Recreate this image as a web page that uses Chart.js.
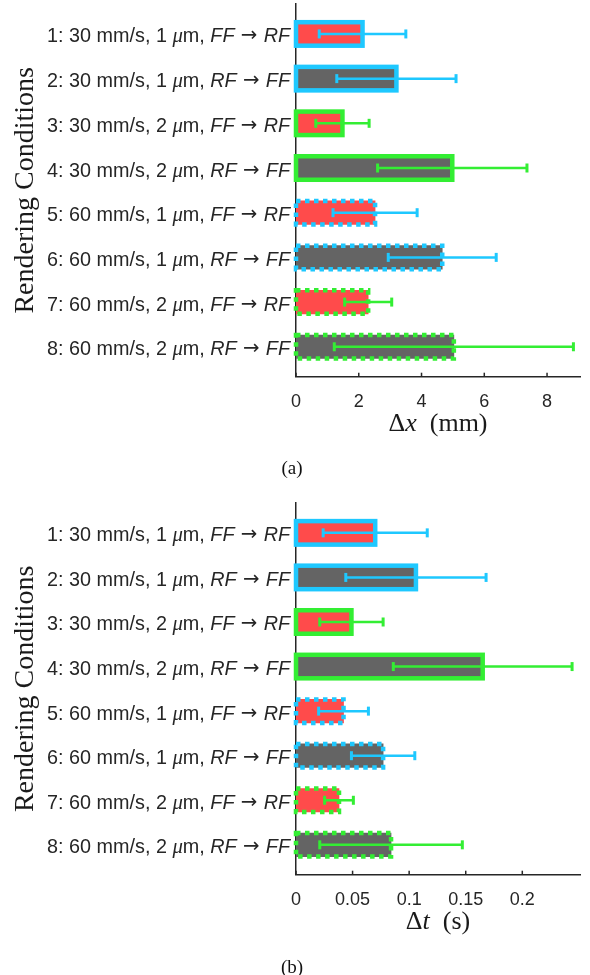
<!DOCTYPE html>
<html>
<head>
<meta charset="utf-8">
<script src="https://cdn.jsdelivr.net/npm/chart.js@4/dist/chart.umd.min.js"></script>
<style>
  html, body { margin: 0; padding: 0; background: #fff; width: 590px; height: 975px; overflow: hidden; }
  .panel { position: absolute; left: 0; width: 590px; }
  #panelA { top: 0; height: 480px; }
  #panelB { top: 499px; height: 476px; }
  .caption { position: absolute; left: 0; width: 584px; text-align: center;
             font: 19px "Liberation Serif", serif; line-height: 20px; color: #111; }
</style>
</head>
<body>
<div class="panel" id="panelA"><canvas id="chartA" width="590" height="480"></canvas></div>
<div class="panel" id="panelB"><canvas id="chartB" width="590" height="476"></canvas></div>
<div class="caption" style="top:458px">(a)</div>
<div class="caption" style="top:957px">(b)</div>
<script>
// Rendering conditions (one bar per condition, top to bottom)
const conditionIds = [1, 2, 3, 4, 5, 6, 7, 8];
const speeds = ['30 mm/s', '30 mm/s', '30 mm/s', '30 mm/s', '60 mm/s', '60 mm/s', '60 mm/s', '60 mm/s'];
const depths = ['1', '1', '2', '2', '1', '1', '2', '2'];
const fromFrame = ['FF', 'RF', 'FF', 'RF', 'FF', 'RF', 'FF', 'RF'];
const toFrame = ['RF', 'FF', 'RF', 'FF', 'RF', 'FF', 'RF', 'FF'];

// Panel (a): displacement threshold, mean and spread (mm)
const dxMean = [2.12, 3.20, 1.48, 4.98, 2.52, 4.66, 2.30, 5.03];
const dxSpread = [1.38, 1.90, 0.85, 2.38, 1.34, 1.72, 0.75, 3.81];
const dxTicks = [0, 2, 4, 6, 8];
const dxTickLabels = ['0', '2', '4', '6', '8'];

// Panel (b): time threshold, mean and spread (s)
const dtMean = [0.070, 0.106, 0.049, 0.165, 0.042, 0.077, 0.038, 0.084];
const dtSpread = [0.046, 0.062, 0.028, 0.079, 0.022, 0.028, 0.0127, 0.063];
const dtTicks = [0, 0.05, 0.1, 0.15, 0.2];
const dtTickLabels = ['0', '0.05', '0.1', '0.15', '0.2'];

// Styling
const RED = '#ff4b4b';
const GRAY = '#646464';
const BLUE = '#1ec8ff';
const GREEN = '#33ee33';
const AXIS = '#262626';
const TEXT = '#262626';
const SANS = '"Liberation Sans", Arial, sans-serif';
const SERIF = '"Liberation Serif", "Times New Roman", serif';
const SYMBOL = '"DejaVu Sans", sans-serif';

const fillFor = i => (fromFrame[i] === 'FF' ? RED : GRAY);
const edgeFor = i => (depths[i] === '1' ? BLUE : GREEN);
const dottedFor = i => speeds[i] === '60 mm/s';

// Draws a run of [text, font, dy] pieces; anchor 'right' or 'center'
function drawPieces(ctx, pieces, anchorX, baseline, anchor) {
  const widths = pieces.map(([t, f]) => { ctx.font = f; return ctx.measureText(t).width; });
  const total = widths.reduce((a, b) => a + b, 0);
  let x = anchor === 'right' ? anchorX - total : anchorX - total / 2;
  pieces.forEach(([t, f, dy], k) => {
    ctx.font = f;
    ctx.fillText(t, x, baseline + (dy || 0));
    x += widths[k];
  });
}

const decor = {
  id: 'decor',
  beforeDatasetsDraw(chart) {
    // inward tick marks on the value axis
    const { ctx, chartArea } = chart;
    const x = chart.scales.x;
    ctx.save();
    ctx.strokeStyle = AXIS;
    ctx.lineWidth = 1.5;
    x.ticks.forEach(t => {
      const px = x.getPixelForValue(t.value);
      ctx.beginPath();
      ctx.moveTo(px, chartArea.bottom);
      ctx.lineTo(px, chartArea.bottom - 4);
      ctx.stroke();
    });
    ctx.restore();
  },
  afterDatasetsDraw(chart, args, opts) {
    const { ctx } = chart;
    const x = chart.scales.x;
    const meta = chart.getDatasetMeta(0);
    // bar outlines: solid for 30 mm/s, dotted for 60 mm/s
    meta.data.forEach((bar, i) => {
      const p = bar.getProps(['x', 'y', 'base', 'height'], true);
      ctx.save();
      ctx.strokeStyle = edgeFor(i);
      ctx.lineWidth = 4.5;
      ctx.setLineDash(dottedFor(i) ? [4.5, 4.5] : []);
      ctx.strokeRect(p.base, p.y - p.height / 2, p.x - p.base, p.height);
      ctx.restore();
    });
    // error bars
    meta.data.forEach((bar, i) => {
      const p = bar.getProps(['y'], true);
      const lo = x.getPixelForValue(opts.mean[i] - opts.spread[i]);
      const hi = x.getPixelForValue(opts.mean[i] + opts.spread[i]);
      ctx.save();
      ctx.strokeStyle = edgeFor(i);
      ctx.lineWidth = 2.5;
      ctx.beginPath();
      ctx.moveTo(lo, p.y); ctx.lineTo(hi, p.y);
      ctx.stroke();
      ctx.lineWidth = 3;
      [lo, hi].forEach(cx => {
        ctx.beginPath();
        ctx.moveTo(cx, p.y - 4.5); ctx.lineTo(cx, p.y + 4.5);
        ctx.stroke();
      });
      ctx.restore();
    });
  },
  afterDraw(chart, args, opts) {
    const { ctx, chartArea } = chart;
    const y = chart.scales.y;
    ctx.save();
    ctx.fillStyle = TEXT;
    ctx.textBaseline = 'alphabetic';
    // condition labels with mixed upright / italic pieces
    const sz = 19.8;
    const sans = `${sz}px ${SANS}`;
    const sansIt = `italic ${sz}px ${SANS}`;
    const serifIt = `italic ${sz + 1}px ${SERIF}`;
    const arrow = `${sz}px ${SYMBOL}`;
    conditionIds.forEach((id, i) => {
      const py = y.getPixelForValue(id);
      drawPieces(ctx, [
        [`${id}: ${speeds[i]}, ${depths[i]} `, sans],
        ['μ', serifIt],
        ['m, ', sans],
        [fromFrame[i], sansIt],
        [' → ', arrow, -1],
        [toFrame[i], sansIt]
      ], chartArea.left - 6, py + 8.5, 'right');
    });
    // value axis title
    ctx.fillStyle = '#1a1a1a';
    const tsz = 26;
    drawPieces(ctx, [
      ['Δ', `${tsz}px ${SERIF}`],
      [opts.symbol, `italic ${tsz}px ${SERIF}`],
      ['  (' + opts.unit + ')', `${tsz}px ${SERIF}`]
    ], (chartArea.left + chartArea.right) / 2, chartArea.bottom + 54, 'center');
    // category axis title
    ctx.save();
    ctx.translate(33, (chartArea.top + chartArea.bottom) / 2);
    ctx.rotate(-Math.PI / 2);
    ctx.font = `28px ${SERIF}`;
    ctx.textAlign = 'center';
    ctx.fillText('Rendering Conditions', 0, 0);
    ctx.restore();
    ctx.restore();
  }
};

function makeChart(canvasId, mean, spread, xMax, ticks, tickLabels, symbol, unit, bottomPad) {
  return new Chart(document.getElementById(canvasId), {
    type: 'bar',
    data: {
      datasets: [{
        data: mean.map((v, i) => ({ x: v, y: conditionIds[i] })),
        backgroundColor: mean.map((_, i) => fillFor(i)),
        borderWidth: 0,
        barThickness: 23.5
      }]
    },
    options: {
      indexAxis: 'y',
      responsive: false,
      animation: false,
      devicePixelRatio: 1,
      layout: { padding: { left: 296, top: 4, right: 10, bottom: bottomPad } },
      plugins: {
        legend: { display: false },
        tooltip: { enabled: false },
        decor: { mean, spread, symbol, unit }
      },
      scales: {
        y: {
          type: 'linear',
          reverse: true,
          offset: false,
          min: 0.33,
          max: 8.67,
          grid: { display: false, offset: false },
          border: { display: true, color: AXIS, width: 1.5 },
          ticks: { display: false },
          afterFit: s => { s.width = 0; }
        },
        x: {
          type: 'linear',
          min: 0,
          max: xMax,
          grid: { display: false },
          border: { display: true, color: AXIS, width: 1.5 },
          ticks: {
            color: TEXT,
            font: { family: SANS, size: 18 },
            padding: 7,
            maxRotation: 0,
            callback: (v, i) => tickLabels[i]
          },
          afterBuildTicks: s => { s.ticks = ticks.map(v => ({ value: v })); },
          afterFit: s => { s.height = 100; }
        }
      }
    },
    plugins: [decor]
  });
}

makeChart('chartA', dxMean, dxSpread, 9.05, dxTicks, dxTickLabels, 'x', 'mm', 3.3);
makeChart('chartB', dtMean, dtSpread, 0.251, dtTicks, dtTickLabels, 't', 's', 0.3);
</script>
</body>
</html>
